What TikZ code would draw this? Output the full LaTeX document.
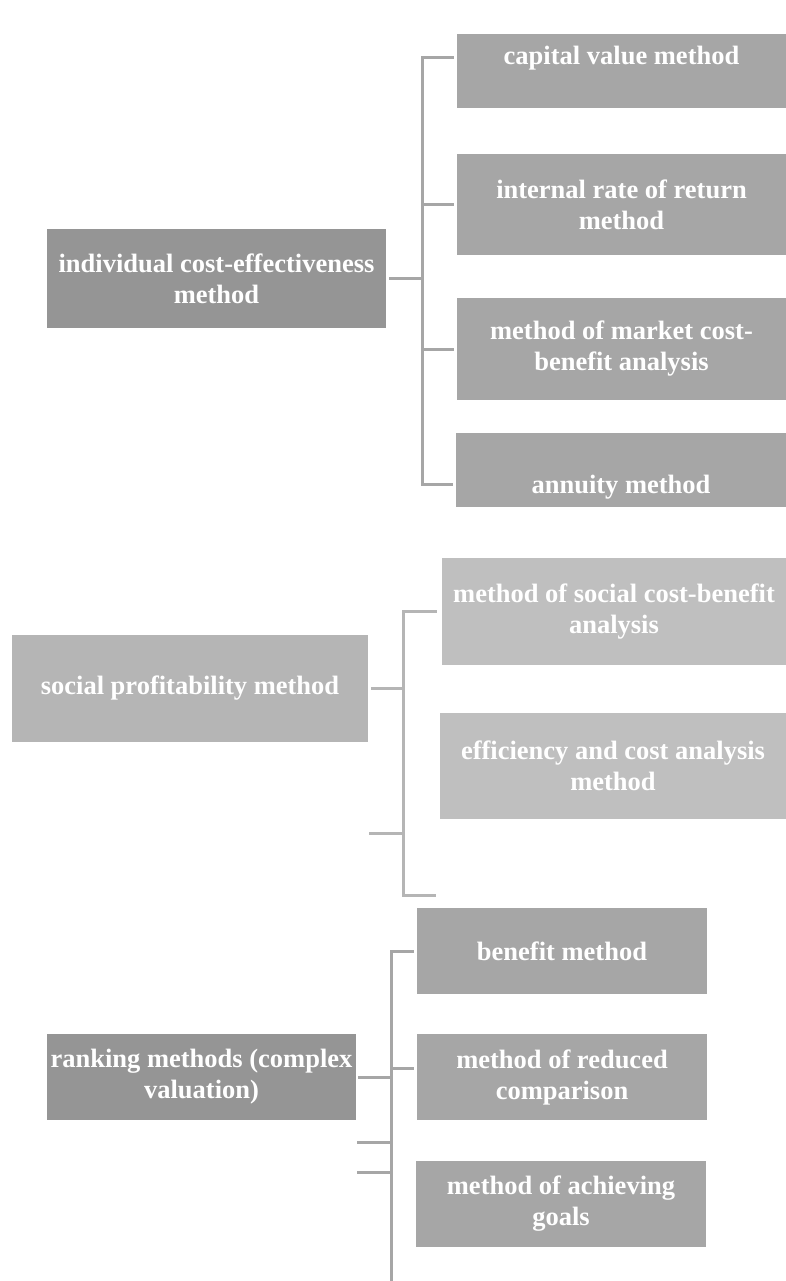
\documentclass[tikz,border=0pt]{standalone}
\usepackage{fontspec}
\setmainfont{Liberation Serif}
\definecolor{boxdark}{HTML}{959595}
\definecolor{boxmid}{HTML}{A6A6A6}
\definecolor{boxlight}{HTML}{B5B5B5}
\definecolor{boxpale}{HTML}{BFBFBF}
\begin{document}
\begin{tikzpicture}[x=1pt,y=-1pt,
    box/.style={fill=#1,text=white,font=\fontsize{26.5}{31}\selectfont\bfseries,align=center,inner sep=0pt},
    link/.style={draw=#1,line width=3pt}]
        \useasboundingbox (0,0) rectangle (786,1281);
        % individual methods
        \node[box=boxdark,minimum width=339pt,minimum height=99pt] (ind) at (216.5,278.5){individual cost-effectiveness\\method};
        \node[box=boxmid,minimum width=329pt,text height=31pt,text depth=43pt,anchor=base] (cap) at (621.5,65){capital value method};
        \node[box=boxmid,minimum width=329pt,minimum height=101pt] (irr) at (621.5,204.5){internal rate of return\\method};
        \node[box=boxmid,minimum width=329pt,minimum height=102pt] (mcb) at (621.5,349){method of market cost-\\benefit analysis};
        \node[box=boxmid,minimum width=330pt,text height=60pt,text depth=14pt,anchor=base] (ann) at (621,493){annuity method};
        \coordinate (j1) at (422,278.5);
        \draw[link=boxmid] ([xshift=3pt]ind.east)--(j1);
        \draw[link=boxmid] ([xshift=-3pt,yshift=7pt]cap.base west)-|(j1)|-([xshift=-3pt,yshift=9pt]ann.base west);
        \foreach \n in {irr,mcb}
        {
            \draw[link=boxmid] (j1|-\n.west)--([xshift=-3pt]\n.west);
        }
        % social methods
        \node[box=boxlight,minimum width=356pt,minimum height=107pt] (soc) at (190,688.5){social profitability method};
        \node[box=boxpale,minimum width=344pt,minimum height=107pt] (scb) at (614,611.5){method of social cost-benefit\\analysis};
        \node[box=boxpale,minimum width=346pt,minimum height=106pt] (eff) at (613,766){efficiency and cost analysis\\method};
        \coordinate (j2) at (403,688.5);
        \coordinate (s2) at (369,833);
        \coordinate (e2) at (436,895);
        \draw[link=boxlight] ([xshift=3pt]soc.east)--(j2);
        \draw[link=boxlight] ([xshift=-5pt]scb.west)-|(j2)|-(e2);
        \draw[link=boxlight] (s2)--(j2|-s2);
        % ranking methods
        \node[box=boxdark,minimum width=309pt,minimum height=86pt] (rank) at (201.5,1077){ranking methods (complex\\valuation)};
        \node[box=boxmid,minimum width=290pt,minimum height=86pt] (ben) at (562,951){benefit method};
        \node[box=boxmid,minimum width=290pt,minimum height=86pt] (red) at (562,1077){method of reduced\\comparison};
        \node[box=boxmid,minimum width=290pt,minimum height=86pt] (goal) at (561,1204){method of achieving\\goals};
        \coordinate (j3) at (391,1077);
        \coordinate (b3) at (391,1283);
        \coordinate (s3a) at (357,1142);
        \coordinate (s3b) at (357,1172);
        \draw[link=boxmid] ([xshift=2pt]rank.east)--(j3);
        \draw[link=boxmid] ([xshift=-3pt]ben.west)-|(b3);
        \draw[link=boxmid] ([xshift=-3pt,yshift=9pt]red.west)-|(j3);
        \foreach \s in {s3a,s3b}
        {
            \draw[link=boxmid] (\s)--(\s-|j3);
        }
    \end{tikzpicture}
\end{document}
